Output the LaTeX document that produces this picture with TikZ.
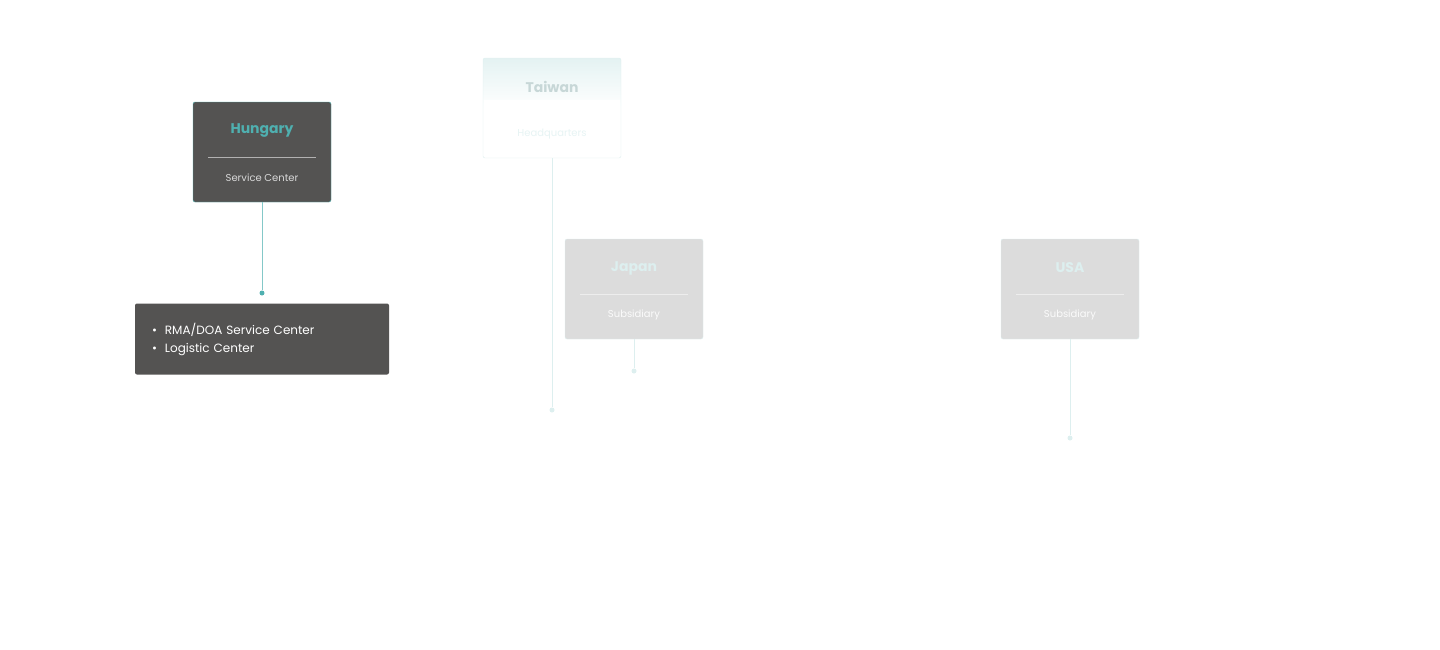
\documentclass[tikz,border=0pt]{standalone}
\usepackage{fontspec}
\setmainfont{Poppins}
\usetikzlibrary{positioning}
\definecolor{teal}{HTML}{4FB0B0}
\definecolor{darkbox}{HTML}{545352}
\definecolor{paleline}{HTML}{DDEFEF}
\definecolor{greybox}{HTML}{DCDCDC}
\tikzset{
  card/.style={rounded corners=2pt,minimum width=138pt,minimum height=100pt},
  dot/.style={circle,inner sep=0pt,minimum size=5pt},
}
\begin{document}
\begin{tikzpicture}[x=1pt,y=-1pt]
  % Boundary
  \path[use as bounding box] (0,0) rectangle (1440,649);
  % Hungary
  \node[card,fill=darkbox,draw=teal] (hu) at (262,152) {};
  \node[text=teal,font=\fontsize{14}{16}\selectfont\bfseries] (hut) at (262,131) {Hungary};
  \node[text=white!85!black,font=\fontsize{10}{12}\selectfont] (hus) at (262,178) {Service Center};
  \draw[white!55!darkbox] (208,157) -- (316,157);
  \node[dot,fill=teal] (hud) at (262,293) {};
  \draw[teal!70,line width=1pt] (hu.south) -- (hud);
  \node[fill=darkbox,rounded corners=2pt,minimum width=254pt,minimum height=71pt,
    text=white,font=\fontsize{12}{18}\selectfont,align=left,text width=220pt] (hul) at (262,339)
    {\textbullet\hspace{8pt}RMA/DOA Service Center\\\textbullet\hspace{8pt}Logistic Center};
  % Taiwan
  \node[card,draw=paleline,top color=paleline!80,bottom color=white,middle color=white,shading angle=0] (tw) at (552,108) {};
  \fill[white] (484,100) rectangle (620,157);
  \node[text=paleline!90!black,font=\fontsize{14}{16}\selectfont\bfseries] (twt) at (552,87) {Taiwan};
  \node[text=paleline!70!white,font=\fontsize{10}{12}\selectfont] (tws) at (552,134) {Headquarters};
  \node[dot,fill=paleline] (twd) at (552,410) {};
  \draw[paleline,line width=1pt] (tw.south) -- (twd);
  % Japan
  \node[card,fill=greybox,draw=paleline] (jp) at (634,289) {};
  \node[text=paleline,font=\fontsize{14}{16}\selectfont\bfseries] (jpt) at (634,268) {Japan};
  \node[text=white!90!greybox,font=\fontsize{10}{12}\selectfont] (jps) at (634,315) {Subsidiary};
  \draw[white!50!greybox] (580,294) -- (688,294);
  \node[dot,fill=paleline] (jpd) at (634,371) {};
  \draw[paleline,line width=1pt] (jp.south) -- (jpd);
  % USA
  \node[card,fill=greybox,draw=paleline] (us) at (1070,289) {};
  \node[text=paleline,font=\fontsize{14}{16}\selectfont\bfseries] (ust) at (1070,268) {USA};
  \node[text=white!90!greybox,font=\fontsize{10}{12}\selectfont] (uss) at (1070,315) {Subsidiary};
  \draw[white!50!greybox] (1016,294) -- (1124,294);
  \node[dot,fill=paleline] (usd) at (1070,438) {};
  \draw[paleline,line width=1pt] (us.south) -- (usd);
\end{tikzpicture}
\end{document}
